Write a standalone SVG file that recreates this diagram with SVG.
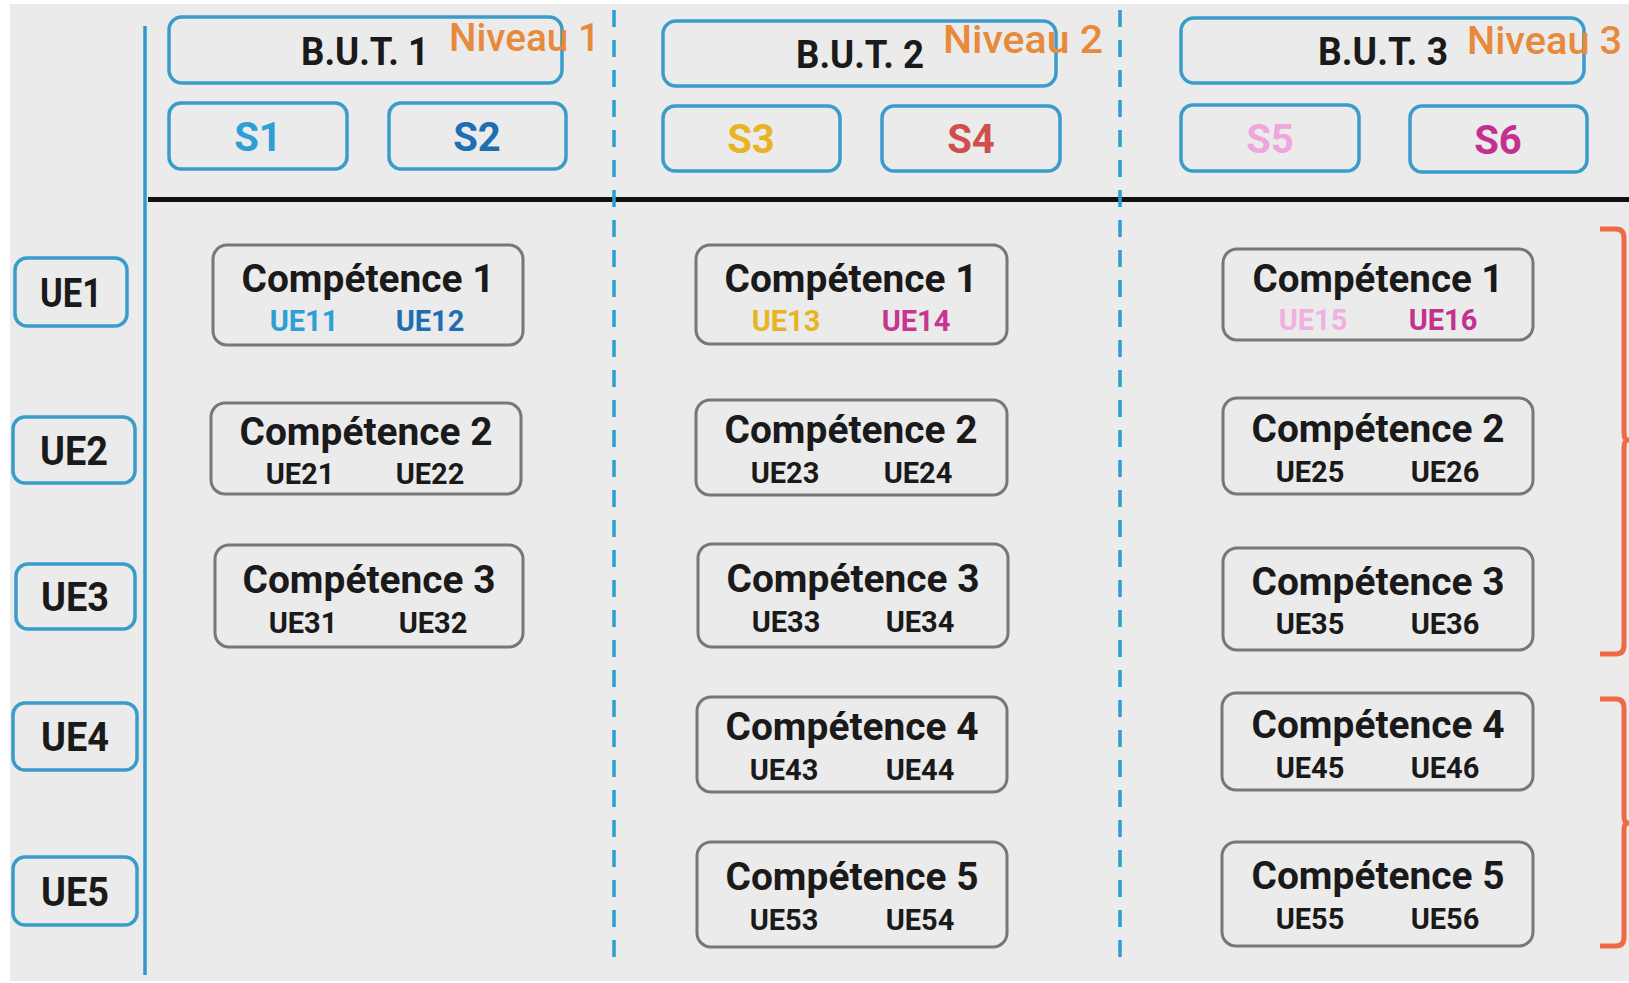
<svg xmlns="http://www.w3.org/2000/svg" width="1629" height="983" viewBox="0 0 1629 983">
<style>
.bg{fill:#ebebeb}
.hb{fill:none;stroke:#3a9ccb;stroke-width:3.5}
.cb{fill:none;stroke:#777;stroke-width:3}
.t{font-family:Roboto,"Liberation Sans",sans-serif;font-weight:bold;text-anchor:middle;fill:#1a1a1a}
.niv{font-family:Roboto,"Liberation Sans",sans-serif;font-weight:500;fill:#e88a3c;font-size:39px}
.but{font-size:38px}
.s{font-size:40px}
.ue{font-size:40px}
.ct{font-size:39px}
.cu{font-size:29px}
.br{fill:none;stroke:#ee6a45;stroke-width:5;stroke-linejoin:round}
</style>
<rect width="1629" height="983" fill="#ffffff"/>
<rect class="bg" x="10" y="4" width="1619" height="977"/>

<g id="connectors">
  <line x1="145" y1="26" x2="145" y2="975" stroke="#2f9ad0" stroke-width="3.5"/>
  <line x1="148" y1="199.5" x2="1629" y2="199.5" stroke="#111" stroke-width="5"/>
  <line x1="614" y1="10" x2="614" y2="970" stroke="#2a9fd0" stroke-width="3.5" stroke-dasharray="17 13"/>
  <line x1="1120" y1="10" x2="1120" y2="970" stroke="#2a9fd0" stroke-width="3.5" stroke-dasharray="17 13"/>
  <path class="br" d="M1600 229 H1616 Q1624 229 1624 238 V432 Q1624 440 1628 440 Q1624 440 1624 448 V645 Q1624 654 1616 654 H1600"/>
  <path class="br" d="M1600 699 H1616 Q1624 699 1624 708 V816 Q1624 823 1628 823 Q1624 823 1624 830 V937 Q1624 946 1616 946 H1600"/>
</g>

<g id="but1">
  <rect class="hb" x="169" y="17" width="393" height="66" rx="13"/>
  <text class="t but" x="365" y="65" textLength="128" lengthAdjust="spacingAndGlyphs">B.U.T. 1</text>
  <text class="niv" x="449" y="51" textLength="151" lengthAdjust="spacingAndGlyphs">Niveau 1</text>
</g>
<g id="but2">
  <rect class="hb" x="663" y="21" width="393" height="65" rx="13"/>
  <text class="t but" x="860" y="68" textLength="128" lengthAdjust="spacingAndGlyphs">B.U.T. 2</text>
  <text class="niv" x="943" y="53" textLength="160" lengthAdjust="spacingAndGlyphs">Niveau 2</text>
</g>
<g id="but3">
  <rect class="hb" x="1181" y="18" width="403" height="65" rx="13"/>
  <text class="t but" x="1383" y="65" textLength="130" lengthAdjust="spacingAndGlyphs">B.U.T. 3</text>
  <text class="niv" x="1467" y="54" textLength="155" lengthAdjust="spacingAndGlyphs">Niveau 3</text>
</g>

<g id="s1"><rect class="hb" x="169" y="103" width="178" height="66" rx="12"/><text class="t s" x="258" y="151" style="fill:#2d9fd5">S1</text></g>
<g id="s2"><rect class="hb" x="389" y="103" width="177" height="66" rx="12"/><text class="t s" x="477" y="151" style="fill:#1f6db3">S2</text></g>
<g id="s3"><rect class="hb" x="663" y="106" width="177" height="65" rx="12"/><text class="t s" x="751" y="153" style="fill:#e8b423">S3</text></g>
<g id="s4"><rect class="hb" x="882" y="106" width="178" height="65" rx="12"/><text class="t s" x="971" y="153" style="fill:#cf4f4a">S4</text></g>
<g id="s5"><rect class="hb" x="1181" y="105" width="178" height="66" rx="12"/><text class="t s" x="1270" y="153" style="fill:#eea6dd">S5</text></g>
<g id="s6"><rect class="hb" x="1410" y="106" width="177" height="66" rx="12"/><text class="t s" x="1498" y="154" style="fill:#c4308f">S6</text></g>

<g id="ue1"><rect class="hb" x="15" y="258" width="112" height="68" rx="12"/><text class="t ue" x="71" y="307" textLength="62" lengthAdjust="spacingAndGlyphs">UE1</text></g>
<g id="ue2"><rect class="hb" x="13" y="417" width="122" height="66" rx="12"/><text class="t ue" x="74" y="465" textLength="68" lengthAdjust="spacingAndGlyphs">UE2</text></g>
<g id="ue3"><rect class="hb" x="16" y="564" width="119" height="65" rx="12"/><text class="t ue" x="75" y="611" textLength="68" lengthAdjust="spacingAndGlyphs">UE3</text></g>
<g id="ue4"><rect class="hb" x="13" y="703" width="124" height="67" rx="12"/><text class="t ue" x="75" y="751" textLength="68" lengthAdjust="spacingAndGlyphs">UE4</text></g>
<g id="ue5"><rect class="hb" x="13" y="857" width="124" height="68" rx="12"/><text class="t ue" x="75" y="906" textLength="68" lengthAdjust="spacingAndGlyphs">UE5</text></g>

<g id="c1-1"><rect class="cb" x="213" y="245" width="310" height="100" rx="14"/>
  <text class="t ct" x="368" y="292" textLength="253" lengthAdjust="spacingAndGlyphs">Compétence 1</text>
  <text class="t cu" x="304" y="331" style="fill:#2d9fd5">UE11</text><text class="t cu" x="430" y="331" style="fill:#1f6db3">UE12</text></g>
<g id="c1-2"><rect class="cb" x="211" y="403" width="310" height="91" rx="14"/>
  <text class="t ct" x="366" y="445" textLength="253" lengthAdjust="spacingAndGlyphs">Compétence 2</text>
  <text class="t cu" x="300" y="484">UE21</text><text class="t cu" x="430" y="484">UE22</text></g>
<g id="c1-3"><rect class="cb" x="215" y="545" width="308" height="102" rx="14"/>
  <text class="t ct" x="369" y="593" textLength="253" lengthAdjust="spacingAndGlyphs">Compétence 3</text>
  <text class="t cu" x="303" y="633">UE31</text><text class="t cu" x="433" y="633">UE32</text></g>

<g id="c2-1"><rect class="cb" x="696" y="245" width="311" height="99" rx="14"/>
  <text class="t ct" x="851" y="292" textLength="253" lengthAdjust="spacingAndGlyphs">Compétence 1</text>
  <text class="t cu" x="786" y="331" style="fill:#e8b423">UE13</text><text class="t cu" x="916" y="331" style="fill:#c8348f">UE14</text></g>
<g id="c2-2"><rect class="cb" x="696" y="400" width="311" height="95" rx="14"/>
  <text class="t ct" x="851" y="443" textLength="253" lengthAdjust="spacingAndGlyphs">Compétence 2</text>
  <text class="t cu" x="785" y="483">UE23</text><text class="t cu" x="918" y="483">UE24</text></g>
<g id="c2-3"><rect class="cb" x="698" y="544" width="310" height="103" rx="14"/>
  <text class="t ct" x="853" y="592" textLength="253" lengthAdjust="spacingAndGlyphs">Compétence 3</text>
  <text class="t cu" x="786" y="632">UE33</text><text class="t cu" x="920" y="632">UE34</text></g>
<g id="c2-4"><rect class="cb" x="697" y="697" width="310" height="95" rx="14"/>
  <text class="t ct" x="852" y="740" textLength="253" lengthAdjust="spacingAndGlyphs">Compétence 4</text>
  <text class="t cu" x="784" y="780">UE43</text><text class="t cu" x="920" y="780">UE44</text></g>
<g id="c2-5"><rect class="cb" x="697" y="842" width="310" height="105" rx="14"/>
  <text class="t ct" x="852" y="890" textLength="253" lengthAdjust="spacingAndGlyphs">Compétence 5</text>
  <text class="t cu" x="784" y="930">UE53</text><text class="t cu" x="920" y="930">UE54</text></g>

<g id="c3-1"><rect class="cb" x="1223" y="249" width="310" height="91" rx="14"/>
  <text class="t ct" x="1378" y="292" textLength="251" lengthAdjust="spacingAndGlyphs">Compétence 1</text>
  <text class="t cu" x="1313" y="330" style="fill:#f0b0e2">UE15</text><text class="t cu" x="1443" y="330" style="fill:#c4308f">UE16</text></g>
<g id="c3-2"><rect class="cb" x="1223" y="398" width="310" height="96" rx="14"/>
  <text class="t ct" x="1378" y="442" textLength="253" lengthAdjust="spacingAndGlyphs">Compétence 2</text>
  <text class="t cu" x="1310" y="482">UE25</text><text class="t cu" x="1445" y="482">UE26</text></g>
<g id="c3-3"><rect class="cb" x="1223" y="548" width="310" height="102" rx="14"/>
  <text class="t ct" x="1378" y="595" textLength="253" lengthAdjust="spacingAndGlyphs">Compétence 3</text>
  <text class="t cu" x="1310" y="634">UE35</text><text class="t cu" x="1445" y="634">UE36</text></g>
<g id="c3-4"><rect class="cb" x="1222" y="693" width="311" height="97" rx="14"/>
  <text class="t ct" x="1378" y="738" textLength="253" lengthAdjust="spacingAndGlyphs">Compétence 4</text>
  <text class="t cu" x="1310" y="778">UE45</text><text class="t cu" x="1445" y="778">UE46</text></g>
<g id="c3-5"><rect class="cb" x="1222" y="842" width="311" height="104" rx="14"/>
  <text class="t ct" x="1378" y="889" textLength="253" lengthAdjust="spacingAndGlyphs">Compétence 5</text>
  <text class="t cu" x="1310" y="929">UE55</text><text class="t cu" x="1445" y="929">UE56</text></g>
</svg>
